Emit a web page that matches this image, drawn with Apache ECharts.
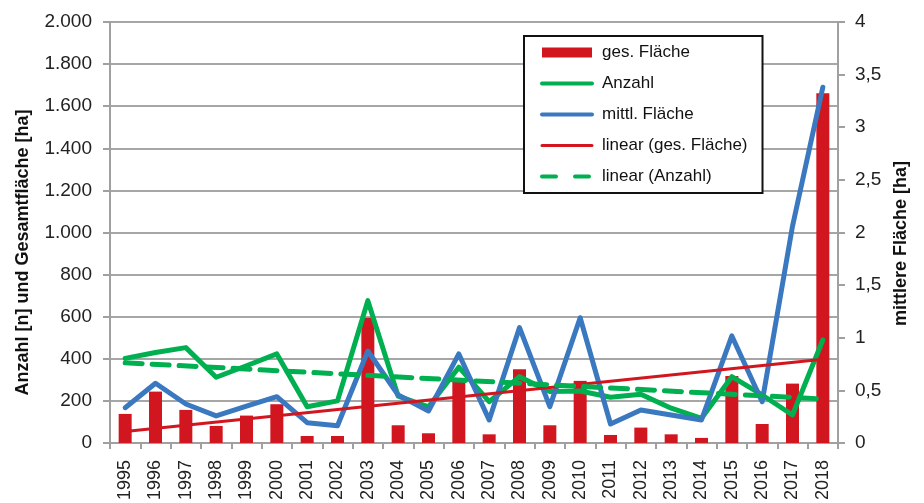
<!DOCTYPE html>
<html>
<head>
<meta charset="utf-8">
<script src="https://cdn.jsdelivr.net/npm/echarts@6/dist/echarts.min.js"></script>
<style>
  html, body { margin: 0; padding: 0; background: #fff; }
  #chart { width: 924px; height: 503px; }
</style>
</head>
<body>
<div id="chart"></div>
<script>
  // Jahre
  const years = ['1995', '1996', '1997', '1998', '1999', '2000', '2001', '2002', '2003', '2004', '2005', '2006',
    '2007', '2008', '2009', '2010', '2011', '2012', '2013', '2014', '2015', '2016', '2017', '2018'];
  // Gesamtfläche [ha]
  const gesFlaeche = [138, 244, 157, 81, 130, 184, 33, 33, 595, 84, 46, 305,
    41, 350, 84, 295, 38, 73, 41, 24, 318, 90, 282, 1661];
  // Anzahl [n]
  const anzahl = [402, 430, 453, 312, 367, 423, 172, 200, 676, 222, 172, 360,
    196, 315, 244, 247, 217, 231, 165, 117, 315, 228, 133, 489];
  // mittlere Fläche [ha]
  const mittlFlaeche = [0.335, 0.567, 0.37, 0.257, 0.35, 0.44, 0.193, 0.164, 0.874, 0.456, 0.304, 0.846,
    0.219, 1.096, 0.345, 1.19, 0.18, 0.314, 0.266, 0.219, 1.017, 0.392, 2.06, 3.38];
  // Trendlinien: nur Anfangs- und Endwert
  const linGesFlaeche = [54, 398];
  const linAnzahl = [381, 209];

  const fontFam = '"Liberation Sans", Arial, sans-serif';

  function trend(ends) { // Werte nur am ersten und letzten Jahr
    return years.map((y, i) => i === 0 ? ends[0] : (i === years.length - 1 ? ends[1] : null));
  }

  function fmtLeft(v) {
    if (v >= 1000) return Math.floor(v / 1000) + '.' + String(v % 1000).padStart(3, '0');
    return String(v);
  }

  const hideDot = { opacity: 0 }; // Punkt im Legendensymbol ausblenden

  const chart = echarts.init(document.getElementById('chart'));
  chart.setOption({
    animation: false,
    textStyle: { fontFamily: fontFam },
    grid: { left: 110, right: 86, top: 22, bottom: 60 },
    legend: {
      orient: 'vertical',
      left: 524,
      top: 36,
      padding: [8, 15, 8, 16],
      itemWidth: 50,
      itemHeight: 10,
      itemGap: 14,
      backgroundColor: '#fff',
      borderColor: '#111',
      borderWidth: 2,
      textStyle: { fontSize: 17, color: '#111', fontFamily: fontFam, padding: [0, 0, 0, 5] },
      data: [
        { name: 'ges. Fläche', icon: 'rect' },
        { name: 'Anzahl', itemStyle: hideDot, lineStyle: { width: 4, cap: 'round' } },
        { name: 'mittl. Fläche', itemStyle: hideDot, lineStyle: { width: 4, cap: 'round' } },
        { name: 'linear (ges. Fläche)', itemStyle: hideDot, lineStyle: { width: 3, cap: 'round' } },
        { name: 'linear (Anzahl)', itemStyle: hideDot, lineStyle: { width: 4, type: [14, 19], cap: 'round' } }
      ]
    },
    xAxis: {
      type: 'category',
      data: years,
      axisLine: { lineStyle: { color: '#a0a0a0', width: 2 } },
      axisTick: { show: true, length: 6, lineStyle: { color: '#a0a0a0', width: 2 } },
      axisLabel: { rotate: 90, margin: 17, fontSize: 18, color: '#222', interval: 0 }
    },
    yAxis: [
      {
        type: 'value',
        min: 0,
        max: 2000,
        interval: 200,
        name: 'Anzahl [n] und Gesamtfläche [ha]',
        nameLocation: 'middle',
        nameGap: 78,
        nameTextStyle: { fontSize: 18, fontWeight: 'bold', color: '#111', padding: [0, 40, 0, 0] },
        axisLine: { show: true, lineStyle: { color: '#a0a0a0', width: 2 } },
        axisTick: { show: true, length: 7, lineStyle: { color: '#a0a0a0', width: 2 } },
        axisLabel: { fontSize: 19, color: '#222', margin: 18, formatter: fmtLeft },
        splitLine: { lineStyle: { color: '#a6a6a6', width: 2 } }
      },
      {
        type: 'value',
        min: 0,
        max: 4,
        interval: 0.5,
        position: 'right',
        name: 'mittlere Fläche [ha]',
        nameLocation: 'middle',
        nameRotate: 90,
        nameGap: 41,
        nameTextStyle: { fontSize: 18, fontWeight: 'bold', color: '#111', padding: [0, 22, 0, 0] },
        axisLine: { show: true, lineStyle: { color: '#a0a0a0', width: 2 } },
        axisTick: { show: true, length: 7, lineStyle: { color: '#a0a0a0', width: 2 } },
        axisLabel: { fontSize: 19, color: '#222', margin: 17, formatter: v => String(v).replace('.', ',') },
        splitLine: { show: false }
      }
    ],
    series: [
      {
        name: 'ges. Fläche',
        type: 'bar',
        data: gesFlaeche,
        barWidth: 13,
        itemStyle: { color: '#d2161f' }
      },
      {
        name: 'Anzahl',
        type: 'line',
        data: anzahl,
        symbol: 'none',
        itemStyle: { color: '#00b050' },
        lineStyle: { color: '#00b050', width: 5, cap: 'round', join: 'round' }
      },
      {
        name: 'mittl. Fläche',
        type: 'line',
        yAxisIndex: 1,
        data: mittlFlaeche,
        symbol: 'none',
        itemStyle: { color: '#3a78c0' },
        lineStyle: { color: '#3a78c0', width: 5, cap: 'round', join: 'round' }
      },
      {
        name: 'linear (ges. Fläche)',
        type: 'line',
        data: trend(linGesFlaeche),
        connectNulls: true,
        symbol: 'none',
        itemStyle: { color: '#d2161f' },
        lineStyle: { color: '#d2161f', width: 3 }
      },
      {
        name: 'linear (Anzahl)',
        type: 'line',
        data: trend(linAnzahl),
        connectNulls: true,
        symbol: 'none',
        itemStyle: { color: '#00b050' },
        lineStyle: { color: '#00b050', width: 5, type: [17, 10], cap: 'round' }
      }
    ]
  });
</script>
</body>
</html>
